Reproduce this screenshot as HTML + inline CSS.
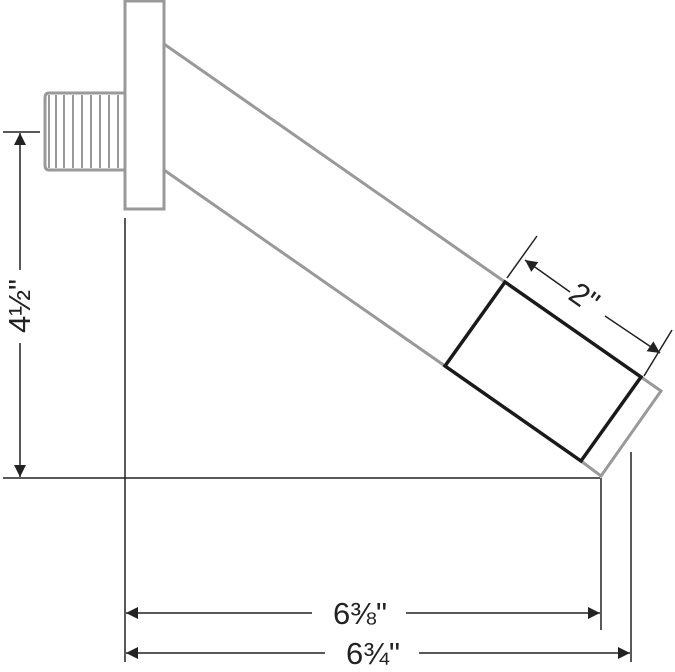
<!DOCTYPE html>
<html><head><style>body{margin:0;background:#fff}svg{display:block}</style></head><body>
<svg width="675" height="672" viewBox="0 0 675 672" xmlns="http://www.w3.org/2000/svg" font-family="'Liberation Sans',sans-serif">
<defs>
<marker id="a" viewBox="0 0 10 10" refX="10" refY="5" markerWidth="17" markerHeight="12" markerUnits="userSpaceOnUse" orient="auto-start-reverse"><path d="M0,0L10,5L0,10z" fill="#222"/></marker>
</defs>
<g stroke="#999" stroke-width="3" fill="none">
<rect x="125" y="1" width="39" height="208"/>
<path d="M125,93 H49 Q45,93 45,98 V165 Q45,170 49,170 H125"/>
<line x1="164" y1="44" x2="505" y2="282"/>
<line x1="164" y1="170" x2="445" y2="366"/>
<path d="M641,377 L661,391 L601,476 L581,461"/>
</g>
<g stroke="#999" stroke-width="2">
<line x1="49" y1="95" x2="49" y2="168"/><line x1="56" y1="95" x2="56" y2="168"/><line x1="64" y1="95" x2="64" y2="168"/><line x1="73" y1="95" x2="73" y2="168"/><line x1="82" y1="95" x2="82" y2="168"/><line x1="91" y1="95" x2="91" y2="168"/><line x1="100" y1="95" x2="100" y2="168"/><line x1="109" y1="95" x2="109" y2="168"/><line x1="118" y1="95" x2="118" y2="168"/>
</g>
<polygon points="505,282 641,377 581,461 445,366" fill="none" stroke="#1a1a1a" stroke-width="3.5"/>
<g stroke="#222" stroke-width="1.5" fill="none">
<line x1="537" y1="236" x2="507" y2="278"/>
<line x1="672" y1="330" x2="644" y2="376"/>
<line x1="525" y1="260" x2="570" y2="292" marker-start="url(#a)"/>
<line x1="605" y1="316" x2="660" y2="353" marker-end="url(#a)"/>
<line x1="3" y1="132" x2="40" y2="132"/>
<line x1="3" y1="478" x2="600" y2="478"/>
<line x1="20" y1="133" x2="20" y2="270" marker-start="url(#a)"/>
<line x1="20" y1="343" x2="20" y2="477" marker-end="url(#a)"/>
<line x1="125" y1="218" x2="125" y2="662"/>
<line x1="601" y1="478" x2="601" y2="630"/>
<line x1="631" y1="452" x2="631" y2="662"/>
<line x1="126" y1="613" x2="312" y2="613" marker-start="url(#a)"/>
<line x1="406" y1="613" x2="600" y2="613" marker-end="url(#a)"/>
<line x1="126" y1="653" x2="325" y2="653" marker-start="url(#a)"/>
<line x1="419" y1="653" x2="630" y2="653" marker-end="url(#a)"/>
</g>
<g fill="#222">
<text x="584" y="308" font-size="31" text-anchor="middle" transform="rotate(35 584 298)">2"</text>
<text x="0" y="0" font-size="31" text-anchor="middle" transform="translate(30 306) rotate(-90)">4½"</text>
<text x="360" y="624" font-size="31" text-anchor="middle">6⅜"</text>
<text x="373" y="664" font-size="31" text-anchor="middle">6¾"</text>
</g>
</svg>
</body></html>
